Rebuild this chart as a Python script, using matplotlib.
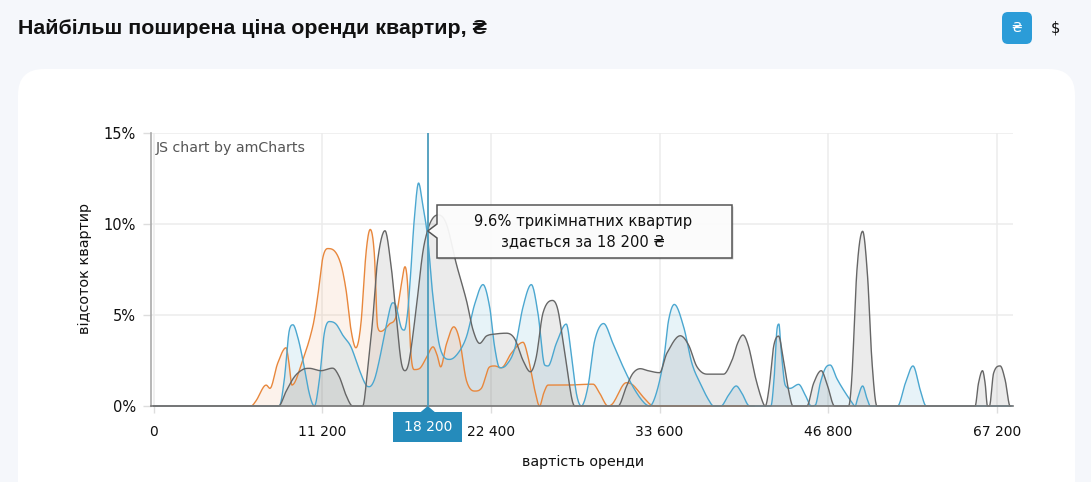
import numpy as np
import matplotlib
matplotlib.use("Agg")
import matplotlib.pyplot as plt
from matplotlib.patches import FancyBboxPatch, Polygon, Rectangle

W, H = 1091, 482
plt.rcParams['font.family'] = ['DejaVu Sans']

tick_rents = [0, 11200, 22400, 33600, 46800, 67200]
tick_labels = ['0', '11 200', '22 400', '33 600', '46 800', '67 200']
y_ticks = [0, 5, 10, 15]
y_labels = ['0%', '5%', '10%', '15%']

orange_x = [0, 6000, 6460, 6800, 7470, 7720, 8230, 8790, 8960, 9180, 9890, 10560, 10890, 11220, 11550, 11880, 12390, 12770, 13100, 13430,
            13760, 14100, 14380, 14650, 14870, 15090, 15650, 16090, 16420, 16690, 16860, 17080, 17300, 17640, 18080, 18550, 18820, 19060,
            19440, 19930, 20320, 20770, 21320, 21760, 22310, 22640, 23090, 23750, 24530, 24860, 25300, 25630, 25900, 26190, 27400, 29180,
            29620, 30170, 30500, 31390, 31830, 32500, 33050, 33380, 41000]
orange_y = [0, 0, 0, .29, 1.15, .97, 2.34, 3.2, 2.5, 1.15, 2.5, 4.35, 6.0, 8.1, 8.65, 8.6, 7.9, 6.4, 4.2, 3.2,
            4.5, 8.4, 9.7, 8.4, 4.35, 4.1, 4.5, 4.9, 6.55, 7.65, 6.7, 2.9, 2.0, 2.05, 2.6, 3.25, 2.8, 2.15,
            3.4, 4.35, 3.6, 1.4, .82, .97, 2.15, 2.2, 2.1, 2.9, 3.5, 2.7, .9, 0, .7, 1.15, 1.15, 1.2,
            .7, 0, .15, 1.28, 1.15, .5, .05, 0, 0]

blue_x = [0, 8340, 8670, 9010, 9250, 9560, 9890, 10330, 10670, 11000, 11330, 11660, 12110, 12550, 13100, 13650, 14100, 14320, 14650, 14980,
          15430, 15870, 16090, 16420, 16640, 16860, 17080, 17300, 17590, 17860, 18190, 18520, 19000, 19660, 20210, 20770, 21320, 21870,
          22310, 22640, 22980, 23420, 23980, 24530, 25080, 25520, 25970, 26190, 26740, 27400, 27730, 28070, 28400, 28840, 29290, 29880,
          30500, 31170, 31830, 32500, 32940, 33380, 33910, 34300, 34750, 35480, 36130, 36780, 37440, 37830, 38400, 39000, 39600, 40040,
          40640, 42310, 42570, 42780, 42940, 43090, 43430, 43820, 44480, 45000, 45470, 45790, 46170, 46570, 47040, 47850, 48650, 49460,
          50060, 50350, 50960, 51480, 51890, 55190, 56120, 57050, 57930, 58650, 69000]
blue_y = [0, 0, 1.43, 4.17, 4.46, 3.8, 2.6, .7, 0, 1.43, 4.0, 4.64, 4.5, 3.9, 3.25, 2.0, 1.15, 1.06, 1.43, 2.5,
          4.35, 5.67, 5.5, 4.35, 4.17, 5.1, 7.46, 10.2, 12.25, 11.1, 9.3, 6.2, 3.25, 2.56, 2.9, 3.8, 5.6, 6.67,
          5.45, 3.25, 2.1, 2.25, 3.16, 5.45, 6.67, 5.1, 2.25, 2.2, 3.44, 4.5, 2.9, .7, 0, 1.06, 3.6, 4.53,
          3.44, 2.16, 1.06, .24, 0, .7, 2.5, 4.7, 5.58, 4.35, 2.34, 1.24, .33, 0, 0, .6, 1.1, .7,
          0, 0, 1.6, 4.17, 4.5, 3.25, 1.15, .97, 1.19, .6, 0, .05, 1.24, 2.07, 2.25, 1.5, .88, .33,
          0, .42, 1.1, .42, 0, 0, 1.24, 2.2, .88, 0, 0]

gray_x = [0, 8300, 8790, 9340, 9890, 10330, 11110, 11880, 12330, 12770, 13210, 13880, 14210, 14540, 14870, 15360, 15750, 16090, 16420, 16690,
          16970, 17420, 17860, 18190, 18520, 18890, 19440, 20100, 20770, 21210, 21650, 22090, 22640, 23420, 23970, 24530, 25020, 25410,
          25850, 26480, 26850, 27300, 27960, 29620, 30840, 31390, 31830, 32320, 32830, 33600, 34170, 35220, 35870, 36520, 37300, 38610,
          39260, 39700, 40120, 40570, 41090, 41610, 41870, 42180, 42520, 42910, 43300, 43690, 44040, 45130, 45650, 46250, 46690, 47570,
          49260, 49660, 50270, 50960, 51560, 52080, 52690, 64570, 64970, 65460, 65780, 66060, 66300, 66800, 67600, 68200, 68800]
gray_y = [0, 0, .8, 1.6, 2.0, 2.07, 1.94, 2.08, 1.6, .6, 0, 0, 2.0, 4.7, 8.0, 9.63, 7.8, 5.1, 2.5, 1.94,
          2.5, 5.26, 8.37, 9.65, 10.3, 10.5, 10.0, 7.8, 5.8, 4.17, 3.44, 3.84, 3.95, 4.0, 3.7, 2.5, 1.88, 2.7,
          5.1, 5.8, 5.26, 2.9, 0, 0, 0, 1.06, 1.8, 2.05, 1.94, 1.83, 2.9, 3.86, 3.35, 2.16, 1.75, 1.75,
          2.5, 3.44, 3.9, 3.25, 1.6, .33, 0, 1.06, 3.25, 3.84, 2.5, .88, 0, 0, 1.24, 1.94, 1.24, 0,
          0, 1.6, 7.46, 9.6, 7.1, 2.5, 0, 0, 1.24, 1.94, 1.24, 0, 0, 1.8, 2.2, 1.43, 0]

cursor_rent = 18200
cursor_label = '18 200'
tooltip_text = '9.6% трикімнатних квартир\nздається за 18 200 ₴'
title = 'Найбільш поширена ціна оренди квартир, ₴'

BG = '#f5f7fb'
fig = plt.figure(figsize=(W / 100, H / 100), dpi=100, facecolor=BG)


def px_axes(l, t, r, b):
    return fig.add_axes([l / W, 1 - b / H, (r - l) / W, (b - t) / H])


# background layer, in pixels
bg = fig.add_axes([0, 0, 1, 1])
bg.set_xlim(0, W)
bg.set_ylim(H, 0)
bg.axis('off')
bg.add_patch(FancyBboxPatch((18 + 26, 69 + 26), 1057 - 52, 500, boxstyle='round,pad=26',
                            fc='white', ec='none'))
bg.add_patch(FancyBboxPatch((1002 + 6, 12 + 6), 30 - 12, 32 - 12, boxstyle='round,pad=6',
                            fc='#2b9cd8', ec='none'))
bg.text(18, 28, title, fontsize=15.4, fontweight='bold', va='center', ha='left',
        family=['Liberation Sans', 'DejaVu Sans'], color='#111111')
bg.text(1017, 28, '₴', fontsize=10, color='white', ha='center', va='center')
bg.text(1055, 28, '$', fontsize=10.5, color='#111111', ha='center', va='center')

# chart
ax = px_axes(151, 133, 1013, 406)
ax.patch.set_alpha(0)
knots = np.array([-11200, 0, 11200, 22400, 33600, 46800, 67200, 87600], float)
pos = np.arange(-1, 7, dtype=float)


def fwd(v):
    return np.interp(v, knots, pos)


def inv(u):
    return np.interp(u, pos, knots)


ax.set_xscale('function', functions=(fwd, inv))
ax.set_xlim(-180, 69150)
ax.set_ylim(0, 15)


def smooth(x, y, n=14):
    """Cubic drawing of the read values in axis position space, flat at peaks."""
    u = fwd(np.asarray(x, float))
    y = np.asarray(y, float)
    d = np.diff(y) / np.diff(u)
    m = np.zeros_like(y)
    for i in range(1, len(y) - 1):
        if d[i - 1] * d[i] > 0:
            c = (y[i + 1] - y[i - 1]) / (u[i + 1] - u[i - 1])
            m[i] = np.sign(c) * min(abs(c), 3 * min(abs(d[i - 1]), abs(d[i])))
    us, ys = [], []
    for i in range(len(y) - 1):
        t = np.linspace(0, 1, n, endpoint=False)
        h = u[i + 1] - u[i]
        us.append(u[i] + t * h)
        ys.append((2 * t**3 - 3 * t**2 + 1) * y[i] + (t**3 - 2 * t**2 + t) * h * m[i]
                  + (-2 * t**3 + 3 * t**2) * y[i + 1] + (t**3 - t**2) * h * m[i + 1])
    us.append(u[-1:])
    ys.append(y[-1:])
    return inv(np.concatenate(us)), np.concatenate(ys)


for xs, ys, col, a in [(orange_x, orange_y, '#e8873c', .10),
                       (blue_x, blue_y, '#4ba7d0', .13),
                       (gray_x, gray_y, '#666666', .13)]:
    sx, sy = smooth(xs, ys)
    ax.fill_between(sx, 0, sy, color=col, alpha=a, lw=0, zorder=3)
    ax.plot(sx, sy, color=col, lw=1.0, zorder=4, clip_on=False, solid_joinstyle='round')

ax.set_xticks(tick_rents, tick_labels)
ax.set_yticks(y_ticks, y_labels)
ax.minorticks_off()
ax.grid(True, color='#ececec', lw=1.1, zorder=0)
ax.set_axisbelow(True)
for s in ['top', 'right']:
    ax.spines[s].set_visible(False)
ax.spines['left'].set_color('#aaaaaa')
ax.spines['left'].set_linewidth(1.2)
ax.spines['bottom'].set_color('#777777')
ax.spines['bottom'].set_linewidth(1.2)
ax.spines['bottom'].set_zorder(5)
ax.tick_params(axis='x', length=5, width=1, color='#dddddd', labelsize=10, pad=9, labelcolor='#111111')
ax.tick_params(axis='y', length=6, width=1, color='#dddddd', labelsize=10.5, pad=5, labelcolor='#111111')
ax.axvline(cursor_rent, color='#4b9cbc', lw=1.3, zorder=6)

fig.canvas.draw()
cx = ax.transData.transform((cursor_rent, 0))[0]

# top layer, in pixels
top = fig.add_axes([0, 0, 1, 1])
top.set_xlim(0, W)
top.set_ylim(H, 0)
top.axis('off')
top.patch.set_alpha(0)
top.text(156, 148, 'JS chart by amCharts', fontsize=10.2, color='#555555', va='center', ha='left')
top.text(85, 269, 'відсоток квартир', rotation=90, fontsize=10.4, color='#111111', ha='center', va='center')
top.text(583, 462, 'вартість оренди', fontsize=10.3, color='#111111', ha='center', va='center')
top.add_patch(Rectangle((393, 412), 69, 30, fc='#258bbb', ec='none'))
top.add_patch(Polygon([(cx - 7, 412), (cx, 406), (cx + 7, 412)], fc='#258bbb', ec='none'))
top.text(428, 427, cursor_label, fontsize=10, color='white', ha='center', va='center')
box = [(437, 205), (732, 205), (732, 258), (437, 258), (437, 238), (cx, 231), (437, 224)]
top.add_patch(Polygon([(p[0] + 1.5, p[1] + 1.5) for p in box], fc='#000000', alpha=.18, ec='none'))
top.add_patch(Polygon(box, fc=(1, 1, 1, .92), ec='#555555', lw=1.1))
top.text(583, 231.5, tooltip_text, fontsize=10.6, color='#111111', ha='center', va='center', linespacing=1.4)

fig.savefig('out.png', dpi=100, facecolor=BG)
